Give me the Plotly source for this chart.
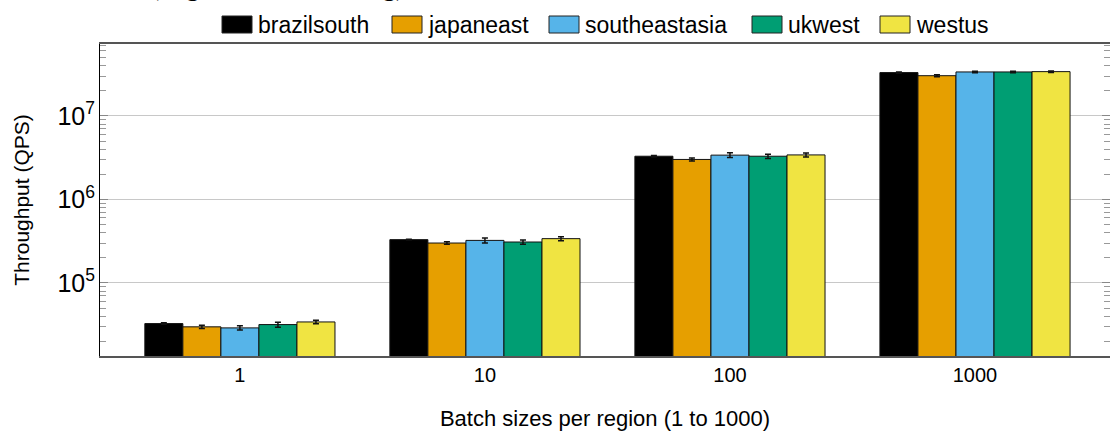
import plotly.graph_objects as go

# Batch sizes (x categories) and regions (series)
batch_sizes = ["1", "10", "100", "1000"]
regions = ["brazilsouth", "japaneast", "southeastasia", "ukwest", "westus"]
colors = ["#000000", "#E69F00", "#56B4E9", "#009E73", "#F0E442"]

# Mean throughput (QPS) per region, one value per batch size
brazilsouth = [32600, 330000, 3290000, 33000000]
japaneast = [29800, 300500, 3010000, 30300000]
southeastasia = [28950, 323000, 3390000, 33600000]
ukwest = [31700, 309000, 3290000, 33600000]
westus = [34100, 339000, 3410000, 33900000]

# Standard deviation of throughput (QPS)
brazilsouth_err = [700, 4000, 60000, 600000]
japaneast_err = [1400, 10000, 130000, 900000]
southeastasia_err = [1700, 22000, 220000, 700000]
ukwest_err = [2200, 18000, 190000, 700000]
westus_err = [1600, 19000, 180000, 700000]

values = [brazilsouth, japaneast, southeastasia, ukwest, westus]
errors = [brazilsouth_err, japaneast_err, southeastasia_err, ukwest_err, westus_err]

W, H = 1110, 433
ML, MR, MT, MB = 100, 0, 44, 77
FONT = "Liberation Sans, Arial, Helvetica, sans-serif"


def paper_x(px):
    return (px - ML) / (W - ML - MR)


def paper_y(py):
    return (H - MB - py) / (H - MT - MB)


fig = go.Figure()
for name, col, vals, errs in zip(regions, colors, values, errors):
    fig.add_trace(go.Bar(
        x=batch_sizes, y=vals, name=name,
        marker=dict(color=col, line=dict(color="#111111", width=1)),
        error_y=dict(type="data", array=errs, visible=True,
                     color="#111111", thickness=1.5, width=3),
        showlegend=False,
    ))

# Legend drawn as swatches + labels across the top
legend_x = [222, 392, 549, 752, 880]
shapes = []
annotations = []
for name, col, sx in zip(regions, colors, legend_x):
    shapes.append(dict(type="rect", xref="paper", yref="paper",
                       x0=paper_x(sx), x1=paper_x(sx + 30),
                       y0=paper_y(33), y1=paper_y(16),
                       fillcolor=col, line=dict(color="#222222", width=1)))
    annotations.append(dict(text=name, xref="paper", yref="paper",
                            x=paper_x(sx + 34), y=paper_y(24.5),
                            xanchor="left", yanchor="middle", showarrow=False,
                            font=dict(family=FONT, size=23, color="#000000")))

# Chart caption sitting above the frame
annotations.append(dict(text="(Higher is better in log)", xref="paper", yref="paper",
                        x=paper_x(148), y=paper_y(3), xanchor="left", yanchor="bottom",
                        showarrow=False,
                        font=dict(family="Liberation Serif, Times New Roman, serif",
                                  size=27, color="#000000")))

fig.update_layout(
    width=W, height=H,
    margin=dict(l=ML, r=MR, t=MT, b=MB, pad=0),
    barmode="group", bargap=0.224, bargroupgap=0,
    plot_bgcolor="white", paper_bgcolor="white",
    font=dict(family=FONT, size=20, color="#000000"),
    shapes=shapes, annotations=annotations,
    showlegend=False,
)
fig.update_xaxes(
    type="category", range=[-0.571, 3.551],
    showline=True, linecolor="#555555", linewidth=1.5, mirror=True,
    ticks="", showgrid=False,
    tickfont=dict(size=20),
    title=dict(text="Batch sizes per region (1 to 1000)", font=dict(size=22), standoff=26),
)
fig.update_yaxes(
    type="log", range=[4.125, 7.861], dtick=1, exponentformat="power",
    showline=True, linecolor="#000000", linewidth=1, mirror="ticks",
    ticks="inside", ticklen=8, tickcolor="#888888",
    showgrid=True, gridcolor="#c8c8c8", gridwidth=1,
    minor=dict(ticks="inside", ticklen=6, tickcolor="#999999", showgrid=False),
    tickfont=dict(size=20),
    title=dict(text="Throughput (QPS)", font=dict(size=21), standoff=22),
    zeroline=False,
)

fig.write_html("out.html")
